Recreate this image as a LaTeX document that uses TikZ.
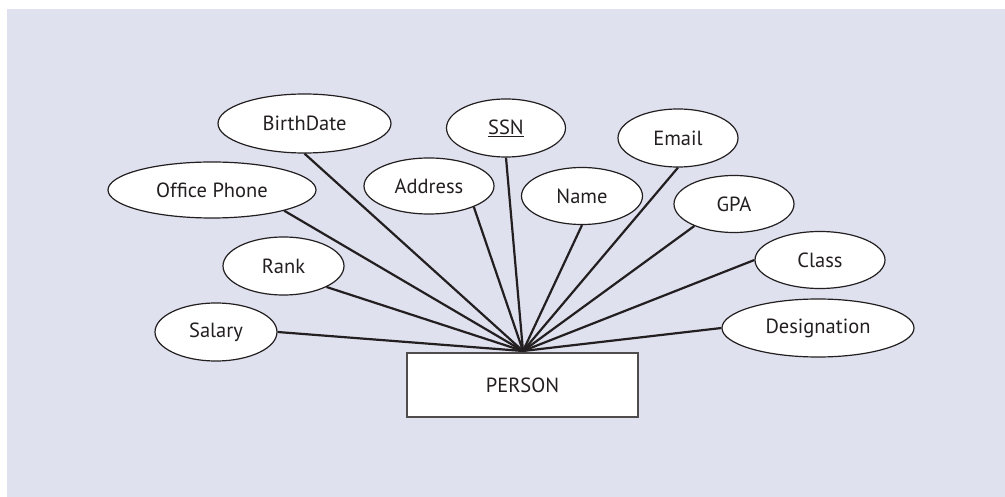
\documentclass[tikz,border=0pt]{standalone}
\usepackage{fontspec}
\setmainfont{PT Sans}
\usetikzlibrary{shapes.geometric}
\definecolor{bglav}{RGB}{223,225,239}
\definecolor{inkc}{RGB}{35,31,32}
\tikzset{
  attr/.style={ellipse, draw=inkc, line width=1.2pt, fill=white, inner sep=0pt, text=inkc, font=\fontsize{20.5}{24}\selectfont},
  ent/.style={rectangle, draw=inkc!80, line width=1.4pt, fill=white, inner sep=0pt, text=inkc, font=\fontsize{20.5}{24}\selectfont},
  link/.style={draw=inkc, line width=2.2pt}
}
\begin{document}
\begin{tikzpicture}[x=1pt,y=-1pt]
\useasboundingbox (0,0) rectangle (1005,497);
\fill[bglav] (7,9) rectangle (1005,497);
\node[ent, minimum width=231pt, minimum height=64pt] (person) at (522.5,385) {PERSON};
\coordinate (hub) at (523,351);
\node[attr, minimum width=173pt, minimum height=59pt] (bd) at (304.5,123.5) {BirthDate};
\node[attr, minimum width=208pt, minimum height=56pt] (op) at (212,190) {Office Phone};
\node[attr, minimum width=130pt, minimum height=56pt] (ad) at (429,186) {Address};
\node[attr, minimum width=119pt, minimum height=58pt] (ssn) at (506,128) {\underline{SSN}};
\node[attr, minimum width=120pt, minimum height=58pt] (em) at (678,138) {Email};
\node[attr, minimum width=121pt, minimum height=57pt] (nm) at (582,196) {Name};
\node[attr, minimum width=120pt, minimum height=57pt] (gpa) at (734,204) {GPA};
\node[attr, minimum width=130pt, minimum height=57pt] (cl) at (820,260) {Class};
\node[attr, minimum width=192pt, minimum height=58pt] (des) at (818,328) {Designation};
\node[attr, minimum width=121pt, minimum height=58pt] (rk) at (283.5,266) {Rank};
\node[attr, minimum width=122pt, minimum height=58pt] (sal) at (216,332) {Salary};
\draw[link] (bd.south) -- (hub);
\draw[link] (op.-16.6) -- (hub);
\draw[link] (ad.-25) -- (hub);
\draw[link] (ssn.south) -- (hub);
\draw[link] (nm.south) -- (hub);
\draw[link] (em.south) -- (hub);
\draw[link] (gpa.-151.3) -- (hub);
\draw[link] (cl.west) -- (hub);
\draw[link] (des.west) -- (hub);
\draw[link] (rk.-26.8) -- (hub);
\draw[link] (sal.east) -- (hub);
\end{tikzpicture}
\end{document}
